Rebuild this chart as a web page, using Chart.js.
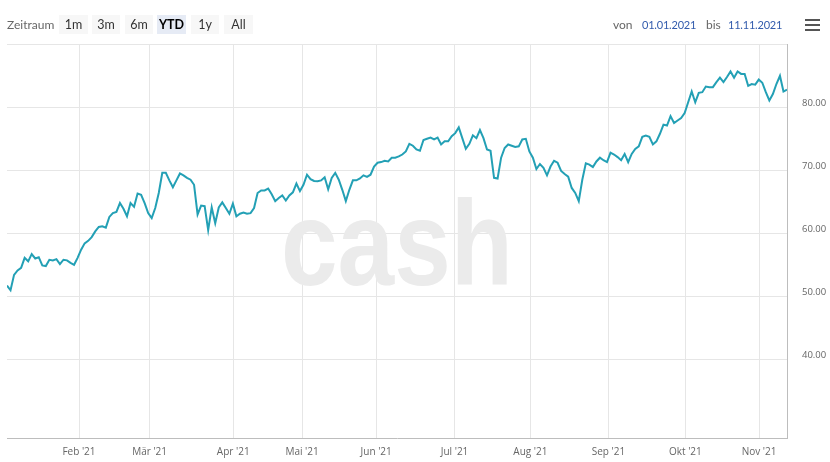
<!DOCTYPE html>
<html>
<head>
<meta charset="utf-8">
<script src="https://cdn.jsdelivr.net/npm/chart.js@4"></script>
<style>
  body { margin: 0; background: #fff; }
  #wrap { position: relative; width: 830px; height: 462px; font-family: Lato, 'Open Sans', sans-serif; }
  #chart { position: absolute; left: 0; top: 0; }
  .lbl { position: absolute; top: 16px; font-size: 12px; line-height: 17px; color: #666; }
  .btn { position: absolute; top: 15px; height: 19px; line-height: 19px; font-size: 12.5px; color: #333; background: #f7f7f7; text-align: center; }
  .btn.on { background: #e6ebf5; font-weight: bold; color: #000; }
  .date { position: absolute; top: 16px; font-size: 11px; line-height: 17px; color: #335cad; letter-spacing: -0.2px; }
  .bar { position: absolute; left: 805px; width: 15px; height: 2px; background: #555; }
</style>
</head>
<body>
<div id="wrap">
  <canvas id="chart" width="830" height="462"></canvas>
  <span class="lbl" style="left:7px">Zeitraum</span>
  <span class="btn" style="left:59px;width:29px">1m</span>
  <span class="btn" style="left:92px;width:28px">3m</span>
  <span class="btn" style="left:125px;width:28px">6m</span>
  <span class="btn on" style="left:157px;width:29px">YTD</span>
  <span class="btn" style="left:191px;width:28px">1y</span>
  <span class="btn" style="left:224px;width:29px">All</span>
  <span class="lbl" style="left:613px">von</span>
  <span class="date" style="left:642px">01.01.2021</span>
  <span class="lbl" style="left:706px">bis</span>
  <span class="date" style="left:728px">11.11.2021</span>
  <div class="bar" style="top:19px"></div>
  <div class="bar" style="top:24px"></div>
  <div class="bar" style="top:29px"></div>
</div>
<script>
// closing prices, one per trading day, 04.01.2021 - 11.11.2021
const prices = [
  51.8, 51.05, 53.5, 54.2, 54.6, 56.2, 55.65, 56.8, 56.1, 56.3,
  55.0, 54.9, 55.9, 55.8, 56.0, 55.2, 55.9, 55.8, 55.4, 55.1,
  56.2, 57.5, 58.5, 58.9, 59.5, 60.4, 61.1, 61.2, 61.0, 62.7,
  63.3, 63.5, 64.9, 64.0, 62.8, 64.9, 64.3, 66.4, 66.2, 64.9,
  63.3, 62.5, 64.1, 66.5, 69.7, 69.7, 68.5, 67.4, 68.5, 69.6,
  69.3, 68.9, 68.6, 67.8, 63.1, 64.5, 64.4, 60.6, 64.2, 61.7,
  64.2, 65.0, 64.1, 63.2, 64.8, 62.8, 63.2, 63.4, 63.2, 63.3,
  64.1, 66.5, 66.9, 66.9, 67.2, 66.3, 65.2, 65.7,
  66.1, 65.3, 66.1, 66.6, 68.0, 66.8, 67.8, 69.4, 68.7, 68.4,
  68.35, 68.5, 69.0, 67.1, 68.9, 69.7, 68.6, 67.0, 65.2, 67.0,
  68.5, 68.5, 68.8, 69.3, 69.05, 69.4, 70.7, 71.3, 71.4, 71.6,
  71.5, 72.1, 72.1, 72.3, 72.6, 73.1, 74.3, 74.0, 73.4, 73.2,
  74.9, 75.1,
  75.3, 75.0, 75.3, 74.2, 74.7, 74.7, 75.5, 76.0, 76.9, 75.2,
  73.5, 74.3, 75.65, 75.2, 76.5, 75.2, 73.4, 73.2, 68.9, 68.8,
  72.1, 73.65, 74.2, 74.0, 73.8, 73.9, 75.0, 75.1, 73.1, 72.1,
  70.3, 71.1, 70.5, 69.3, 70.7, 71.6, 71.3, 70.0, 69.5, 69.1,
  67.3, 66.5, 65.2, 68.6, 71.2, 71.0, 70.6, 71.5, 72.1, 71.7,
  71.4, 72.9, 72.6, 72.2, 71.7, 72.7, 71.4, 72.7, 73.5, 73.9,
  75.4, 75.6, 75.4, 74.2, 74.7, 75.9, 77.35, 77.2, 78.7, 77.6,
  78.0, 78.4, 79.2, 80.9, 82.6, 80.9, 82.4,
  82.5, 83.4, 83.3, 83.3, 84.1, 84.8, 84.1, 84.9, 85.8, 84.8,
  85.8, 85.4, 85.4, 83.5, 83.8, 83.7, 84.5, 84.0, 82.5, 81.2,
  82.2, 83.8, 85.1, 82.6, 82.9
];

// month starts, as position on the trading-day axis
const monthPos = [20.4, 40.4, 64.1, 83.6, 104.6, 126.8, 148.3, 170.4, 192.2, 213.1];
const monthLabels = ["Feb '21", "Mär '21", "Apr '21", "Mai '21", "Jun '21", "Jul '21", "Aug '21", "Sep '21", "Okt '21", "Nov '21"];
const yTicks = [40, 50, 60, 70, 80, 90];

const xFont = { family: "'Open Sans', sans-serif", size: 10 };
const yFont = { family: "'Open Sans', sans-serif", size: 9.5 };

const watermark = {
  id: 'watermark',
  beforeDatasetsDraw(chart) {
    const { ctx, chartArea } = chart;
    const cx = (chartArea.left + chartArea.right) / 2;
    const cy = (chartArea.top + chartArea.bottom) / 2;
    ctx.save();
    ctx.fillStyle = '#ebebeb';
    ctx.font = "bold 121px 'Liberation Sans', sans-serif";
    ctx.textAlign = 'center';
    ctx.textBaseline = 'alphabetic';
    ctx.fillText('cash', cx, cy + 44, 232);
    ctx.restore();
  }
};

new Chart(document.getElementById('chart'), {
  type: 'line',
  data: {
    datasets: [{
      data: prices.map((v, i) => ({ x: i, y: v })),
      borderColor: '#23a0b5',
      borderWidth: 2,
      pointRadius: 0,
      tension: 0,
      fill: false
    }]
  },
  options: {
    responsive: false,
    animation: false,
    layout: { padding: { left: 7, top: 44, right: 0, bottom: 0 } },
    plugins: { legend: { display: false }, tooltip: { enabled: false } },
    scales: {
      x: {
        type: 'linear',
        min: 0,
        max: prices.length - 1,
        afterBuildTicks: scale => { scale.ticks = monthPos.map(v => ({ value: v })); },
        afterFit: scale => { scale.height = 24; },
        ticks: {
          autoSkip: false,
          maxRotation: 0,
          padding: 8,
          color: '#666',
          font: xFont,
          callback: (v, i) => monthLabels[i]
        },
        grid: { color: '#e6e6e6', drawTicks: false },
        border: { color: '#bdbdbd' }
      },
      y: {
        position: 'right',
        min: 27.6,
        max: 90.15,
        afterBuildTicks: scale => { scale.ticks = yTicks.map(v => ({ value: v })); },
        afterFit: scale => { scale.width = 43; },
        ticks: {
          padding: 15,
          labelOffset: -5,
          color: '#666',
          font: yFont,
          callback: v => v === 90 ? '' : v.toFixed(2)
        },
        grid: { color: '#e6e6e6', drawTicks: false },
        border: { color: '#bdbdbd' }
      }
    }
  },
  plugins: [watermark]
});
</script>
</body>
</html>
